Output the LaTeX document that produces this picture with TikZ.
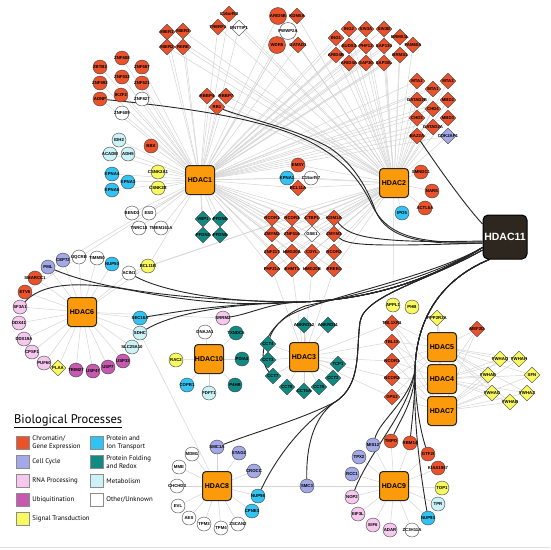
\documentclass[tikz,border=0pt]{standalone}
\usepackage{fontspec}
\newfontfamily\lab{Liberation Sans}
\newfontfamily\legf{PT Sans}
\usetikzlibrary{shapes.geometric,positioning,backgrounds}
\definecolor{chrom}{HTML}{E9522B}
\definecolor{ccyc}{HTML}{A3A8E6}
\definecolor{rnap}{HTML}{F6C8EE}
\definecolor{ubiq}{HTML}{C55AB0}
\definecolor{sigt}{HTML}{F8F860}
\definecolor{trans}{HTML}{33C3F2}
\definecolor{fold}{HTML}{108A82}
\definecolor{meta}{HTML}{CBF3F7}
\definecolor{hdacor}{HTML}{FB9A0A}
\definecolor{hdacdark}{HTML}{2D2720}
\newcommand\glab[1]{\makebox[0pt]{#1}}
\tikzset{
  gene/.style={draw=black!75, line width=0.4pt, inner sep=0pt, font=\lab\bfseries\fontsize{4.3}{5}\selectfont},
  gc/.style={gene, circle, minimum size=14pt},
  gd/.style={gene, diamond, minimum size=16pt},
  hub/.style={rectangle, rounded corners=3.5pt, fill=hdacor, draw=black!85, line width=1pt, minimum size=29pt, inner sep=0pt, font=\lab\bfseries\fontsize{7}{8}\selectfont},
  ppi/.style={draw=black!17, line width=0.5pt},
  link11/.style={draw=black!85, line width=0.9pt},
  legbox/.style={rectangle, draw=black!45, line width=0.5pt, minimum size=13pt, inner sep=0pt},
  legtext/.style={align=left, inner sep=0pt, font=\legf\fontsize{6.8}{8}\selectfont}
}
\begin{document}
\begin{tikzpicture}[x=1pt, y=-1pt]
  \useasboundingbox (0,0) rectangle (550,550);
  \draw[black!12] (0,547) -- (550,547);

  % hubs
  \node[hub] (hdac1) at (200,180) {HDAC1};
  \node[hub] (hdac2) at (394,183) {HDAC2};
  \node[hub] (hdac6) at (82,312) {HDAC6};
  \node[hub] (hdac10) at (209,359) {HDAC10};
  \node[hub] (hdac3) at (304,357) {HDAC3};
  \node[hub] (hdac5) at (442,347) {HDAC5};
  \node[hub] (hdac4) at (442,379) {HDAC4};
  \node[hub] (hdac7) at (442,411) {HDAC7};
  \node[hub] (hdac8) at (217,486) {HDAC8};
  \node[hub] (hdac9) at (394,486) {HDAC9};
  \node[hub, fill=hdacdark, draw=black, text=white, minimum size=44pt, rounded corners=5pt, font=\lab\bfseries\fontsize{10.5}{12}\selectfont] (hdac11) at (505,237) {HDAC11};

  % chromatin / gene expression
  \foreach \n/\x/\y in {ZNF608/122/58, ZBTB2/100/67, ZNF687/142/67, ZNF532/122/77, ZNF592/100/83, ZNF521/142/83, ADNP/100/99, IKZF2/121/95, BBX/151/146, EMSY/298/165, SMNDC1/421/172, NARS/432/191, ACTL6A/425/208, SMARCC1/35/278, ETV6/25/292, TMPO/391/441, RBM14/410/443, GTF2I/428/454, KIAA1967/438/468}
    \node[gc, fill=chrom] (\n) at (\x,\y) {\glab{\n}};
  \foreach \n/\x/\y in {ARID5B/278/16, WDR5/277/45}
    \node[gc, fill=chrom, minimum size=17pt] (\n) at (\x,\y) {\glab{\n}};
  \foreach \n/\x/\y in {MIER1/167/32, MIER3/183/31, MIER2/167/47, RERE/183/47, C16orf53/229/14, TRERF1/218/27, KDM5A/297/16, GATAD1/298/45, RBBP4/207/96, RBBP7/226/96, RB1/217/107, ING2/349/29, SIN3A/366/29, SIN3B/384/29, ING1/336/38, BRMS1L/400/37, SUDS3/349/46, PHF12/366/46, SAP130/384/46, FAM60A/413/45, ARID4B/336/55, BRMS1/400/55, ARID4A/349/63, SAP30/366/63, SAP30L/384/63, MTA2/417/81, MTA3/448/81, MTA1/433/89, GATAD2B/417/100, MBD2/448/100, CHD4/433/109, CHD3/417/118, MBD3/448/118, GATAD2A/433/127, BAZ2A/417/136, BCL11A/298/188, RCOR1/272/218, RCOR3/292/218, CTBP1/312/218, KDM1A/334/218, ZMYM2/272/234, ZNF516/292/234, ZMYM3/334/234, ZNF217/272/252, HMG20A/292/252, CDYL/312/252, RCOR2/334/252, PHF21A/272/269, EHMT1/292/269, HMG20B/312/269, RREB1/334/269, TBL1XR1/392/323, TBL1X/392/342, NCOR1/392/361, NCOR2/392/378, GPS2/392/397, MEF2D/477/329}
    \node[gd, fill=chrom] (\n) at (\x,\y) {\glab{\n}};

  % other / unknown
  \foreach \n/\x/\y in {ZNF827/142/99, ZNF609/122/113, BEND3/132/213, ESD/149/213, TNRC18/139/228, TMEM161A/161/228, C15orf57/311/178, UQCRB/79/257, TIMM50/97/258, ACIN1/129/273, DNAJA1/205/332, MDM1/192/454, MME/179/467, CHCHD3/177/486, EVL/178/506, AES/189/518, TPM3/204/524, TPM4/221/528, ZSCAN2/238/524, ZC3H11A/412/530}
    \node[gc, fill=white] (\n) at (\x,\y) {\glab{\n}};
  \node[gc, fill=white, minimum size=17pt] (PWWP2A) at (288,31) {\glab{PWWP2A}};
  \foreach \n/\x/\y in {DNTTIP1/239/28, GSE1/312/234}
    \node[gd, fill=white] (\n) at (\x,\y) {\glab{\n}};

  % metabolism
  \foreach \n/\x/\y in {IDH2/119/140, ACADM/110/154, ADH5/128/154, SLC25A10/132/347, SDHC/140/333, FDFT1/209/393, TPR/438/504}
    \node[gc, fill=meta] (\n) at (\x,\y) {\glab{\n}};

  % protein and ion transport
  \foreach \n/\x/\y in {KPNA4/112/174, KPNA3/128/182, KPNA6/112/190, KPNA1/287/178, IPO5/402/213, NUP50/112/264, SEC16A/140/318, COPB1/187/385, NUP98/258/496, CPNE3/252/511, NUP93/428/518}
    \node[gc, fill=trans] (\n) at (\x,\y) {\glab{\n}};

  % signal transduction
  \foreach \n/\x/\y in {CSNK2A1/158/172, CSNK2B/158/188, BCL11B/148/266, RAC2/176/360, APPL1/393/305, PHB/412/307, TOP1/442/488}
    \node[gc, fill=sigt] (\n) at (\x,\y) {\glab{\n}};
  \foreach \n/\x/\y in {PLAA/58/368, PPP2R2A/437/318, YWHAQ/500/359, YWHAH/519/359, YWHAE/488/375, SFN/532/375, YWHAG/492/393, YWHAZ/527/393, YWHAB/510/402}
    \node[gd, fill=sigt] (\n) at (\x,\y) {\glab{\n}};

  % protein folding and redox
  \foreach \n/\x/\y in {VBP1/203/219, PFDN6/220/219, PFDN2/203/235, PFDN5/220/235, ANKRD12/304/325, ANKRD11/328/325, CCT4/268/344, CCT3/268/360, CCT7/273/376, CCT8/287/387, CCT6A/304/391, CCT5/319/387, CCT2/333/378, TCP1/338/364}
    \node[gd, fill=fold] (\n) at (\x,\y) {\glab{\n}};
  \foreach \n/\x/\y in {TXNDC5/236/333, PDIA3/242/359, P4HB/235/385}
    \node[gc, fill=fold] (\n) at (\x,\y) {\glab{\n}};

  % cell cycle
  \foreach \n/\x/\y in {PML/48/267, CEP72/63/260, SMC1A/217/447, STAG2/239/453, CROCC/254/471, SMC3/307/486, MIS12/373/445, TPX2/359/457, RCC1/352/474}
    \node[gc, fill=ccyc] (\n) at (\x,\y) {\glab{\n}};
  \node[gd, fill=ccyc] (CDK2AP1) at (448,136) {\glab{CDK2AP1}};

  % RNA processing
  \foreach \n/\x/\y in {SF3A1/20/307, DDX41/19/323, DDX19A/24/339, CPSF1/32/352, PUF60/44/363, SRRM2/223/318, NOP2/352/497, EIF3L/358/514, EIF6/373/525, ADAR/390/530}
    \node[gc, fill=rnap] (\n) at (\x,\y) {\glab{\n}};

  % ubiquitination
  \foreach \n/\x/\y in {TRIM27/76/370, USP47/93/371, USP7/108/367, USP33/123/361}
    \node[gc, fill=ubiq] (\n) at (\x,\y) {\glab{\n}};

  \begin{scope}[on background layer]
    % HDAC1 only
    \foreach \n in {ZNF608, ZBTB2, ZNF687, ZNF532, ZNF592, ZNF521, ADNP, IKZF2, ZNF827, ZNF609, IDH2, ACADM, ADH5, BBX, KPNA4, KPNA3, KPNA6, CSNK2A1, CSNK2B, BEND3, ESD, TNRC18, TMEM161A, VBP1, PFDN6, PFDN2, PFDN5, BCL11B, SMARCC1, ETV6}
      \draw[ppi] (hdac1) -- (\n);
    % HDAC1 and HDAC2
    \foreach \n in {MIER1, MIER3, MIER2, RERE, C16orf53, TRERF1, DNTTIP1, RBBP4, RBBP7, RB1, ARID5B, KDM5A, PWWP2A, WDR5, GATAD1, ING2, SIN3A, SIN3B, ING1, BRMS1L, SUDS3, PHF12, SAP130, FAM60A, ARID4B, BRMS1, ARID4A, SAP30, SAP30L, MTA2, MTA3, MTA1, GATAD2B, MBD2, CHD4, CHD3, MBD3, GATAD2A, BAZ2A, CDK2AP1, EMSY, KPNA1, C15orf57, BCL11A, RCOR1, RCOR3, CTBP1, KDM1A, ZMYM2, ZNF516, GSE1, ZMYM3, ZNF217, HMG20A, CDYL, RCOR2, PHF21A, EHMT1, HMG20B, RREB1}
      {\draw[ppi] (hdac1) -- (\n); \draw[ppi] (hdac2) -- (\n);}
    % HDAC2 only
    \foreach \n in {SMNDC1, NARS, ACTL6A, IPO5, APPL1, ACIN1, BCL11B}
      \draw[ppi] (hdac2) -- (\n);
    % HDAC3
    \foreach \n in {ANKRD12, ANKRD11, CCT4, CCT3, CCT7, CCT8, CCT6A, CCT5, CCT2, TCP1, TBL1XR1, TBL1X, NCOR1, NCOR2, GPS2, PHF21A, EHMT1, HMG20B, RREB1}
      \draw[ppi] (hdac3) -- (\n);
    % HDAC4, HDAC5, HDAC7
    \foreach \h in {hdac5, hdac4, hdac7}
      \foreach \n in {TBL1XR1, TBL1X, NCOR1, NCOR2, GPS2, PPP2R2A, MEF2D, YWHAQ, YWHAH, YWHAE, SFN, YWHAG, YWHAZ, YWHAB}
        \draw[ppi] (\h) -- (\n);
    % HDAC6
    \foreach \n in {PML, CEP72, UQCRB, TIMM50, NUP50, BCL11B, ACIN1, SMARCC1, ETV6, SF3A1, DDX41, DDX19A, CPSF1, PUF60, PLAA, TRIM27, USP47, USP7, USP33, SLC25A10, SDHC, SEC16A, SRRM2}
      \draw[ppi] (hdac6) -- (\n);
    % HDAC10
    \foreach \n in {DNAJA1, TXNDC5, RAC2, PDIA3, COPB1, FDFT1, P4HB}
      \draw[ppi] (hdac10) -- (\n);
    % HDAC8
    \foreach \n in {SMC1A, STAG2, CROCC, NUP98, CPNE3, ZSCAN2, TPM4, TPM3, AES, EVL, CHCHD3, MME, MDM1, SMC3, SDHC}
      \draw[ppi] (hdac8) -- (\n);
    % HDAC9
    \foreach \n in {MIS12, TPX2, RCC1, NOP2, EIF3L, EIF6, ADAR, ZC3H11A, NUP93, TPR, TOP1, KIAA1967, GTF2I, RBM14, TMPO, SMC3}
      \draw[ppi] (hdac9) -- (\n);

    % HDAC11
    \draw[link11] (BAZ2A) .. controls (440,170) and (465,205) .. (hdac11.150);
    \draw[link11] (ADNP) .. controls (190,108) and (250,118) .. (290,133) .. controls (340,152) and (360,180) .. (372,205) .. controls (385,232) and (410,245) .. (hdac11.192);
    \draw[link11] (RB1) .. controls (245,118) and (300,130) .. (330,148) .. controls (355,165) and (368,190) .. (376,212) .. controls (388,238) and (420,245) .. (hdac11.195);
    \draw[link11] (KDM1A) .. controls (348,234) and (360,244) .. (hdac11.190);
    \draw[link11] (ZMYM3) .. controls (348,245) and (365,247) .. (hdac11.195);
    \draw[link11] (SF3A1) .. controls (45,280) and (90,282) .. (140,292) .. controls (200,303) and (250,306) .. (300,302) .. controls (370,300) and (430,280) .. (hdac11.205);
    \draw[link11] (PML) .. controls (90,285) and (160,300) .. (300,302) .. controls (370,300) and (430,280) .. (hdac11.205);
    \draw[link11] (ACIN1) .. controls (160,290) and (220,303) .. (300,302) .. controls (370,300) and (430,280) .. (hdac11.205);
    \draw[link11] (SEC16A) .. controls (175,312) and (220,304) .. (300,302) .. controls (370,300) and (430,280) .. (hdac11.205);
    \draw[link11] (SDHC) .. controls (170,315) and (220,304) .. (300,302) .. controls (370,300) and (430,280) .. (hdac11.205);
    \draw[link11] (SRRM2) .. controls (250,314) and (270,303) .. (300,302) .. controls (370,300) and (430,280) .. (hdac11.205);
    \draw[link11] (CCT4) .. controls (272,330) and (282,315) .. (305,306) .. controls (370,292) and (430,278) .. (hdac11.205);
    \draw[link11] (CCT7) .. controls (258,360) and (262,335) .. (285,318) .. controls (310,300) and (430,278) .. (hdac11.205);
    \draw[link11] (SMC1A) .. controls (255,432) and (300,420) .. (335,402) .. controls (362,385) and (356,350) .. (360,322) .. controls (364,295) and (430,280) .. (hdac11.210);
    \draw[link11] (NUP98) .. controls (275,460) and (300,425) .. (335,402) .. controls (362,385) and (356,350) .. (360,322) .. controls (364,295) and (430,280) .. (hdac11.210);
    \draw[link11] (SMC3) .. controls (306,450) and (312,418) .. (335,402) .. controls (362,385) and (356,350) .. (360,322) .. controls (364,295) and (430,280) .. (hdac11.210);
    \draw[link11] (TMPO) .. controls (400,420) and (415,400) .. (415,370) .. controls (416,320) and (440,280) .. (hdac11.235);
    \draw[link11] (RBM14) .. controls (412,420) and (415,400) .. (415,370) .. controls (416,320) and (440,280) .. (hdac11.235);
    \draw[link11] (GTF2I) .. controls (420,430) and (415,400) .. (415,370) .. controls (416,320) and (440,280) .. (hdac11.235);
    \draw[link11] (NUP93) .. controls (420,470) and (413,420) .. (415,370) .. controls (416,320) and (440,280) .. (hdac11.235);
    \draw[link11] (MIS12) .. controls (380,420) and (410,400) .. (415,370) .. controls (416,320) and (440,280) .. (hdac11.235);
    \draw[link11] (NOP2) .. controls (370,450) and (410,410) .. (415,370) .. controls (416,320) and (440,280) .. (hdac11.235);
  \end{scope}

  % legend
  \node[anchor=west, inner sep=0pt, font=\legf\fontsize{12.5}{14}\selectfont] (legtitle) at (14,421) {\underline{Biological Processes}};
  \foreach \c/\x/\y/\t in {chrom/23/443/{Chromatin/\\Gene Expression}, ccyc/23/462/{Cell Cycle}, rnap/23/481/{RNA Processing}, ubiq/23/500/{Ubiquitination}, sigt/23/519/{Signal Transduction}, trans/97/443/{Protein and\\Ion Transport}, fold/97/462/{Protein Folding\\and Redox}, meta/97/481/{Metabolism}, white/97/500/{Other/Unknown}}
  {
    \node[legbox, fill=\c] (leg\c) at (\x,\y) {};
    \node[legtext, right=2.5pt of leg\c] {\t};
  }
\end{tikzpicture}
\end{document}
